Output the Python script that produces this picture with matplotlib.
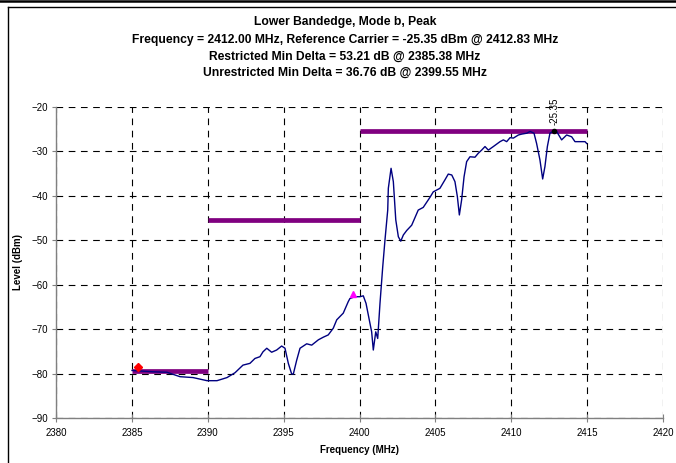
import matplotlib
matplotlib.use("Agg")
import matplotlib.pyplot as plt
from matplotlib.lines import Line2D

plt.rcParams['font.family'] = ['Liberation Sans', 'DejaVu Sans']

# Trace data (MHz, dBm)
freq = [2385.01, 2386.39, 2387.31, 2388.17, 2389.03, 2389.95, 2390.61, 2391.27, 2391.80,
        2392.32, 2392.78, 2393.11, 2393.44, 2393.64, 2393.89, 2394.21, 2394.54, 2394.87,
        2395.09, 2395.31, 2395.53, 2395.64, 2395.86, 2396.08, 2396.52, 2396.85, 2397.29,
        2397.62, 2397.94, 2398.27, 2398.50, 2398.93, 2399.26, 2399.37, 2399.70, 2400.03,
        2400.25, 2400.43, 2400.69, 2400.80, 2400.91, 2401.07, 2401.20, 2401.35, 2401.53,
        2401.68, 2401.86, 2401.90, 2402.08, 2402.23, 2402.39, 2402.56, 2402.72, 2402.89,
        2403.11, 2403.44, 2403.87, 2404.20, 2404.65, 2404.86, 2405.30, 2405.63, 2405.85,
        2406.08, 2406.29, 2406.45, 2406.58, 2406.73, 2406.89, 2407.06, 2407.28, 2407.61,
        2407.83, 2408.05, 2408.27, 2408.49, 2408.82, 2409.26, 2409.48, 2409.70, 2409.92,
        2410.14, 2410.47, 2410.69, 2411.02, 2411.24, 2411.50, 2411.67, 2411.89, 2412.07,
        2412.22, 2412.38, 2412.55, 2412.83, 2412.99, 2413.32, 2413.65, 2413.98, 2414.20,
        2414.53, 2414.86, 2414.97]
level = [-79.3, -79.6, -79.7, -80.7, -80.9, -81.6, -81.6, -80.9, -79.8,
         -78.1, -77.7, -76.6, -76.2, -75.1, -74.3, -75.2, -74.7, -73.8,
         -74.3, -77.7, -80.1, -80.1, -77.0, -74.3, -73.3, -73.6, -72.4,
         -71.8, -71.3, -69.8, -67.9, -66.4, -63.8, -63.1, -62.7, -62.7,
         -62.5, -64.2, -68.7, -70.6, -74.7, -70.6, -72.1, -64.2, -56.0,
         -49.9, -43.2, -38.3, -33.8, -36.8, -45.4, -49.2, -50.2, -48.8,
         -47.8, -46.6, -43.2, -42.6, -40.3, -39.1, -38.3, -36.4, -35.1,
         -35.3, -36.8, -40.2, -44.3, -40.9, -35.7, -32.3, -31.2, -31.3,
         -30.4, -29.7, -28.9, -29.7, -28.9, -27.8, -27.4, -27.8, -26.9,
         -27.0, -26.3, -26.1, -25.9, -25.5, -25.9, -28.2, -31.9, -36.2,
         -33.4, -28.9, -25.9, -25.35, -25.5, -27.4, -26.3, -26.7, -27.8,
         -27.8, -27.8, -28.2]

# Limit lines
limit_start = [2385, 2390, 2400]
limit_stop = [2390, 2400, 2415]
limit_level = [-79.35, -45.35, -25.35]

# Markers
carrier_f, carrier_l = 2412.83, -25.35
restricted_f, restricted_l = 2385.38, -78.56
unrestricted_f, unrestricted_l = 2399.55, -62.11

xticks = list(range(2380, 2421, 5))
yticks = list(range(-90, -19, 10))

title_lines = ["Lower Bandedge, Mode b, Peak",
               "Frequency = 2412.00 MHz, Reference Carrier = -25.35 dBm @ 2412.83 MHz",
               "Restricted Min Delta = 53.21 dB @ 2385.38 MHz",
               "Unrestricted Min Delta = 36.76 dB @ 2399.55 MHz"]

W, H = 676, 463
fig = plt.figure(figsize=(W / 100, H / 100), dpi=100)
ax = fig.add_axes([56 / W, 1 - 418 / H, (663 - 56) / W, (418 - 107) / H])

for s, e, l in zip(limit_start, limit_stop, limit_level):
    ax.plot([s, e], [l, l], color='#800080', lw=3.4, solid_capstyle='butt', zorder=3)

ax.plot(freq, level, color='#000080', lw=1.0, zorder=4)

ax.plot([restricted_f], [restricted_l], marker='D', color='red', ms=4, zorder=5, ls='none')
ax.plot([unrestricted_f], [unrestricted_l], marker='^', color='magenta', ms=5, zorder=5, ls='none')
ax.plot([carrier_f], [carrier_l], marker='o', color='black', ms=3, zorder=5, ls='none')
ax.annotate(f"{carrier_l:.2f}", (carrier_f, carrier_l), xytext=(0, 4), textcoords='offset points',
            rotation=90, ha='center', va='bottom', fontsize=7)

ax.set_xlim(2380, 2420)
ax.set_ylim(-90, -20)
ax.set_xticks(xticks)
ax.set_yticks(yticks)
ax.grid(True, color='black', ls=(0, (6, 5)), lw=0.8)
ax.set_axisbelow(True)
for sp in ['top', 'right']:
    ax.spines[sp].set_visible(False)
for sp in ['left', 'bottom']:
    ax.spines[sp].set_color('#808080')
    ax.spines[sp].set_linewidth(1.0)
ax.tick_params(axis='x', direction='inout', length=6, labelsize=7, color='#808080', pad=4)
ax.tick_params(axis='y', direction='out', length=3, labelsize=7, color='#808080', pad=3)
ax.set_xlabel("Frequency (MHz)", fontsize=7, fontweight='bold', labelpad=5)
ax.set_ylabel("Level (dBm)", fontsize=7, fontweight='bold', labelpad=6)

ys = [22, 40, 57, 73]
for t, y in zip(title_lines, ys):
    fig.text(345 / W, 1 - y / H, t, ha='center', va='center', fontsize=8.7, fontweight='bold')

# Frame
fig.add_artist(Line2D([0, 1], [1 - 1.2 / H, 1 - 1.2 / H], color='black', lw=1.8, transform=fig.transFigure))
fig.add_artist(Line2D([7.5 / W, 1], [1 - 6.5 / H, 1 - 6.5 / H], color='black', lw=1.0, transform=fig.transFigure))
fig.add_artist(Line2D([7.5 / W, 7.5 / W], [0, 1 - 6.5 / H], color='black', lw=1.0, transform=fig.transFigure))

fig.savefig("out.png", dpi=100)
